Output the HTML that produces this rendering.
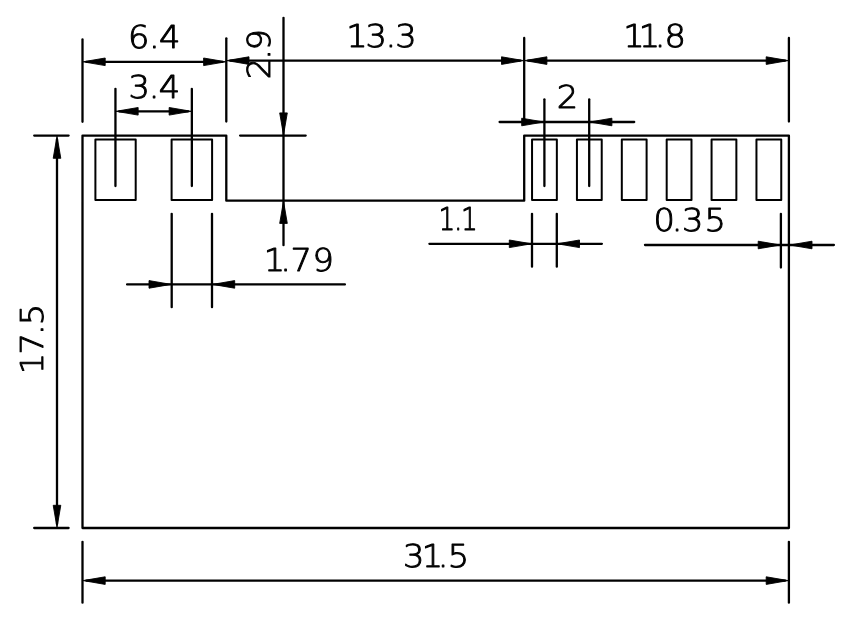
<!DOCTYPE html>
<html lang="en">
<head>
<meta charset="utf-8">
<title>Module outline dimensions</title>
<style>
html,body{margin:0;padding:0;background:#fff;}
body{width:842px;height:625px;overflow:hidden;}
svg{display:block;will-change:transform;}
.ln{stroke:#000;stroke-width:2.3;fill:none;stroke-linecap:round;stroke-linejoin:round;}
.pd{stroke-width:2;}
.ar{fill:#000;stroke:#000;stroke-width:0.9;stroke-linejoin:round;}
.tx{font-family:"DejaVu Sans Light","DejaVu Sans","Liberation Sans",sans-serif;font-weight:200;font-size:33px;fill:#000;stroke:#000;stroke-width:1px;stroke-linejoin:round;text-rendering:geometricPrecision;}
</style>
</head>
<body>
<svg width="842" height="625" viewBox="0 0 842 625" role="img" aria-label="Module outline drawing with dimensions">
<rect width="842" height="625" fill="#fff"/>
<g class="ln">
<path d="M82.5 135.6 H226.3 V200.7 H524.2 V135.6 H788.9 V528.0 H82.5 Z"/>
<rect class="pd" x="95.4" y="139.5" width="40.3" height="60.5"/>
<rect class="pd" x="171.6" y="139.5" width="40.5" height="60.5"/>
<rect class="pd" x="532.05" y="139.5" width="24.8" height="60.5"/>
<rect class="pd" x="576.93" y="139.5" width="24.8" height="60.5"/>
<rect class="pd" x="621.81" y="139.5" width="24.8" height="60.5"/>
<rect class="pd" x="666.69" y="139.5" width="24.8" height="60.5"/>
<rect class="pd" x="711.57" y="139.5" width="24.8" height="60.5"/>
<rect class="pd" x="756.45" y="139.5" width="24.8" height="60.5"/>
<line x1="82.5" y1="39.5" x2="82.5" y2="121.8"/>
<line x1="226.3" y1="38.3" x2="226.3" y2="121.6"/>
<line x1="524.2" y1="38" x2="524.2" y2="121.6"/>
<line x1="788.9" y1="38" x2="788.9" y2="121.6"/>
<line x1="86.3" y1="61.8" x2="222.5" y2="61.8"/>
<line x1="230.1" y1="60.6" x2="520.4" y2="60.6"/>
<line x1="528" y1="60.6" x2="785.1" y2="60.6"/>
<line x1="115.45" y1="88.8" x2="115.45" y2="186"/>
<line x1="191.85" y1="88.8" x2="191.85" y2="186"/>
<line x1="119.25" y1="111.3" x2="188.05" y2="111.3"/>
<line x1="283.5" y1="17.8" x2="283.5" y2="245.2"/>
<line x1="240.1" y1="135.6" x2="305.7" y2="135.6"/>
<line x1="171.7" y1="213.8" x2="171.7" y2="307.2"/>
<line x1="212" y1="213.8" x2="212" y2="307.2"/>
<line x1="127.1" y1="284.4" x2="344.9" y2="284.4"/>
<line x1="544.4" y1="99.3" x2="544.4" y2="186"/>
<line x1="589.2" y1="99.3" x2="589.2" y2="186"/>
<line x1="499.6" y1="122" x2="634.2" y2="122"/>
<line x1="532" y1="213.8" x2="532" y2="266.7"/>
<line x1="556.8" y1="213.8" x2="556.8" y2="266.7"/>
<line x1="429.4" y1="243.8" x2="601.9" y2="243.8"/>
<line x1="780.9" y1="213.8" x2="780.9" y2="267.6"/>
<line x1="645" y1="245" x2="833.9" y2="245"/>
<line x1="34.2" y1="135.6" x2="68.6" y2="135.6"/>
<line x1="34.2" y1="528" x2="68.6" y2="528"/>
<line x1="57" y1="139.4" x2="57" y2="524.2"/>
<line x1="82.5" y1="541.8" x2="82.5" y2="602.7"/>
<line x1="788.9" y1="541.8" x2="788.9" y2="602.7"/>
<line x1="86.3" y1="580.6" x2="785.1" y2="580.6"/>
</g>
<g class="ar">
<polygon points="83.1,61.8 105.2,58 105.2,65.6"/>
<polygon points="225.7,61.8 203.6,65.6 203.6,58"/>
<polygon points="226.9,60.6 249,56.8 249,64.4"/>
<polygon points="523.6,60.6 501.5,64.4 501.5,56.8"/>
<polygon points="524.8,60.6 546.9,56.8 546.9,64.4"/>
<polygon points="788.3,60.6 766.2,64.4 766.2,56.8"/>
<polygon points="116.05,111.3 138.15,107.5 138.15,115.1"/>
<polygon points="191.25,111.3 169.15,115.1 169.15,107.5"/>
<polygon points="283.5,135 279.7,112.9 287.3,112.9"/>
<polygon points="283.5,201.3 287.3,223.4 279.7,223.4"/>
<polygon points="171.1,284.4 149,288.2 149,280.6"/>
<polygon points="212.6,284.4 234.7,280.6 234.7,288.2"/>
<polygon points="543.8,122 521.7,125.8 521.7,118.2"/>
<polygon points="589.8,122 611.9,118.2 611.9,125.8"/>
<polygon points="531.4,243.8 509.3,247.6 509.3,240"/>
<polygon points="557.4,243.8 579.5,240 579.5,247.6"/>
<polygon points="780.3,245 758.2,248.8 758.2,241.2"/>
<polygon points="789.9,245 812,241.2 812,248.8"/>
<polygon points="57,136.2 60.8,158.3 53.2,158.3"/>
<polygon points="57,527.4 53.2,505.3 60.8,505.3"/>
<polygon points="83.1,580.6 105.2,576.8 105.2,584.4"/>
<polygon points="788.3,580.6 766.2,584.4 766.2,576.8"/>
</g>
<g class="tx">
<text transform="translate(130.2 48.2) scale(1.02 0.955)" x="-2.13 18.48 28.35" y="0">6.4</text>
<text transform="translate(130.1 97.5) scale(1.02 0.955)" x="-1.49 18.18 28.15" y="0">3.4</text>
<text transform="translate(351.8 47.2) scale(1.02 0.955)" x="-5.54 13.32 33.09 42.73" y="0">13.3</text>
<text transform="translate(628.8 47.2) scale(1.02 0.955)" x="-5.54 9.65 25.54 35.09" y="0">11.8</text>
<text transform="translate(558.1 108.2) scale(1.02 0.955)" x="-1.45" y="0">2</text>
<text transform="translate(269.5 270.7) scale(1.02 0.955)" x="-5.54 10.44 20.47 42.18" y="0">1.79</text>
<text transform="translate(441.9 230.2) scale(0.8 0.955)" x="-4.21 15.13 23.92" y="0">1.1</text>
<text transform="translate(657.5 231.2) scale(1.02 0.955)" x="-3.91 14.07 23.91 45.98" y="0">0.35</text>
<text transform="translate(404.5 567) scale(1.02 0.955)" x="-1.49 16.91 32.69 42.45" y="0">31.5</text>
<text transform="translate(269.7 77.7) rotate(-90) scale(1.02 0.955)" x="-1.45 17.6 26.79" y="0">2.9</text>
<text transform="translate(43.1 368.6) rotate(-90) scale(1.02 0.955)" x="-5.54 13.71 32.99 42.45" y="0">17.5</text>
</g>
</svg>
</body>
</html>
